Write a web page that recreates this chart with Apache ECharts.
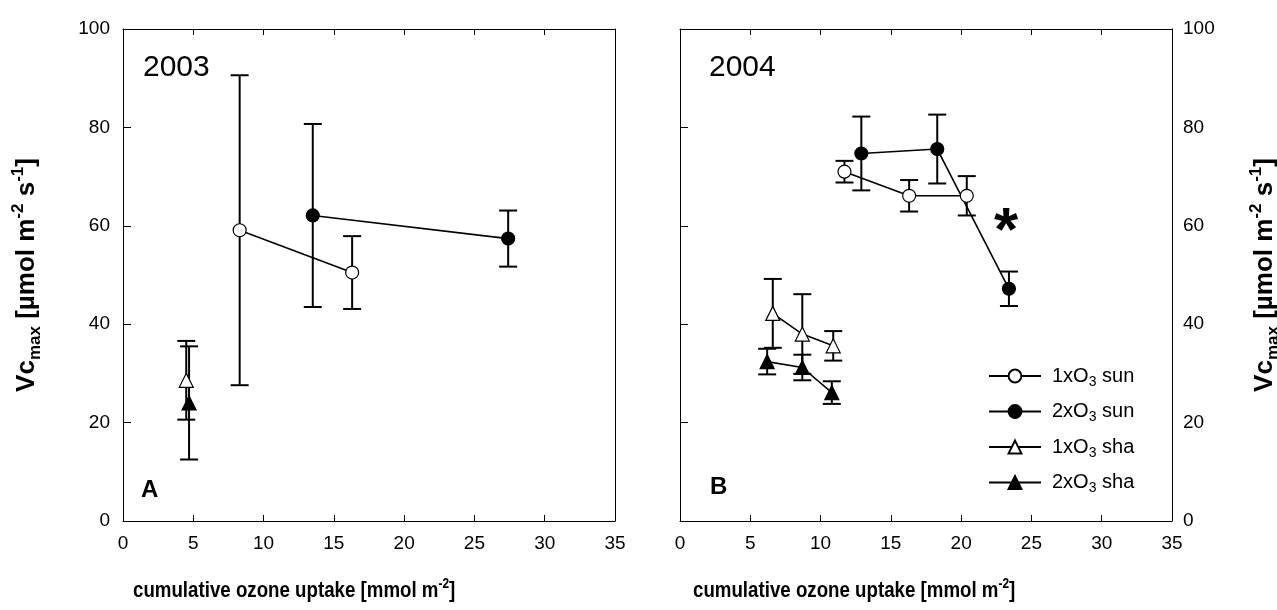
<!DOCTYPE html>
<html><head><meta charset="utf-8">
<script src="https://cdn.jsdelivr.net/npm/echarts@6/dist/echarts.min.js"></script>
<style>html,body{margin:0;padding:0;background:#fff}#c{width:1277px;height:610px}</style>
</head><body><div id="c"></div>
<script>
// ---- Data ----
const seriesNames = ['1xO3 sun', '2xO3 sun', '1xO3 sha', '2xO3 sha'];

// Panel A: 2003
const sun1_2003_x = [8.3, 16.3];
const sun1_2003_y = [59.1, 50.5];
const sun1_2003_err = [31.5, 7.4];
const sun2_2003_x = [13.5, 27.4];
const sun2_2003_y = [62.1, 57.4];
const sun2_2003_err = [18.6, 5.7];
const sha1_2003_x = [4.5];
const sha1_2003_y = [28.6];
const sha1_2003_err = [8.0];
const sha2_2003_x = [4.7];
const sha2_2003_y = [24.0];
const sha2_2003_err = [11.5];

// Panel B: 2004
const sun1_2004_x = [11.7, 16.3, 20.4];
const sun1_2004_y = [71.0, 66.1, 66.1];
const sun1_2004_err = [2.2, 3.2, 4.0];
const sun2_2004_x = [12.9, 18.3, 23.4];
const sun2_2004_y = [74.7, 75.6, 47.2];
const sun2_2004_err = [7.5, 7.0, 3.5];
const sha1_2004_x = [6.6, 8.7, 10.9];
const sha1_2004_y = [42.2, 38.0, 35.6];
const sha1_2004_err = [7.0, 8.1, 3.0];
const sha2_2004_x = [6.2, 8.7, 10.8];
const sha2_2004_y = [32.4, 31.2, 26.1];
const sha2_2004_err = [2.6, 2.6, 2.3];

const xMin = 0, xMax = 35, xStep = 5;
const yMin = 0, yMax = 100, yStep = 20;
const panelYears = ['2003', '2004'];
const panelLetters = ['A', 'B'];
const xTitle = 'cumulative ozone uptake [mmol m{sup|-2}]';
const yTitle = 'Vc{sub|max} [µmol m{sup|-2} s{sup|-1}]';

// ---- Styling ----
const FONT = '"Liberation Sans", Arial, sans-serif';
const styles = {
  '1xO3 sun': {symbol: 'circle', fill: '#fff', size: 13},
  '2xO3 sun': {symbol: 'circle', fill: '#000', size: 13},
  '1xO3 sha': {symbol: 'triangle', fill: '#fff', size: 14},
  '2xO3 sha': {symbol: 'triangle', fill: '#000', size: 14}
};

const panels = [
  {xi: 0, yi: 0, sets: [
    ['1xO3 sun', sun1_2003_x, sun1_2003_y, sun1_2003_err],
    ['2xO3 sun', sun2_2003_x, sun2_2003_y, sun2_2003_err],
    ['1xO3 sha', sha1_2003_x, sha1_2003_y, sha1_2003_err],
    ['2xO3 sha', sha2_2003_x, sha2_2003_y, sha2_2003_err]
  ]},
  {xi: 2, yi: 1, sets: [
    ['1xO3 sun', sun1_2004_x, sun1_2004_y, sun1_2004_err],
    ['2xO3 sun', sun2_2004_x, sun2_2004_y, sun2_2004_err],
    ['1xO3 sha', sha1_2004_x, sha1_2004_y, sha1_2004_err],
    ['2xO3 sha', sha2_2004_x, sha2_2004_y, sha2_2004_err]
  ]}
];

const series = [];
panels.forEach(p => {
  p.sets.forEach(([name, xs, ys, es]) => {
    series.push({
      type: 'custom', xAxisIndex: p.xi, yAxisIndex: p.yi, silent: true, z: 2,
      data: xs.map((x, i) => [x, ys[i] - es[i], ys[i] + es[i]]),
      encode: {x: 0, y: [1, 2]},
      renderItem: function (params, api) {
        const x = api.value(0), lo = api.value(1), hi = api.value(2);
        const pl = api.coord([x, lo]), ph = api.coord([x, hi]);
        const w = 9, st = {stroke: '#000', lineWidth: 2};
        return {type: 'group', children: [
          {type: 'line', shape: {x1: pl[0], y1: pl[1], x2: ph[0], y2: ph[1]}, style: st},
          {type: 'line', shape: {x1: pl[0] - w, y1: pl[1], x2: pl[0] + w, y2: pl[1]}, style: st},
          {type: 'line', shape: {x1: ph[0] - w, y1: ph[1], x2: ph[0] + w, y2: ph[1]}, style: st}
        ]};
      }
    });
    const s = styles[name];
    series.push({
      type: 'line', name: name, xAxisIndex: p.xi, yAxisIndex: p.yi, z: 3,
      data: xs.map((x, i) => [x, ys[i]]),
      symbol: s.symbol, symbolSize: s.size, showAllSymbol: true,
      itemStyle: {color: s.fill, borderColor: '#000', borderWidth: 1.2},
      lineStyle: {color: '#000', width: 1.6},
      emphasis: {disabled: true}
    });
  });
});

const tickLbl = {fontFamily: FONT, fontSize: 19, color: '#000'};
const nameStyle = {
  fontFamily: FONT, fontWeight: 'bold', fontSize: 26, color: '#000', lineHeight: 34,
  rich: {
    sub: {fontFamily: FONT, fontWeight: 'bold', fontSize: 17, lineHeight: 17, verticalAlign: 'bottom'},
    sup: {fontFamily: FONT, fontWeight: 'bold', fontSize: 17, lineHeight: 17, verticalAlign: 'top'}
  }
};

function xAx(gi, pos, labels) {
  return {
    type: 'value', gridIndex: gi, position: pos, min: xMin, max: xMax, interval: xStep,
    axisLine: {show: true, onZero: false, lineStyle: {color: '#000', width: 1}},
    axisTick: {show: true, inside: true, length: 6, lineStyle: {color: '#000'}},
    axisLabel: labels ? Object.assign({margin: 13}, tickLbl) : {show: false},
    splitLine: {show: false}
  };
}
function yAx(gi, pos, ticks, labels, withName) {
  return {
    type: 'value', gridIndex: gi, position: pos, min: yMin, max: yMax, interval: yStep,
    axisLine: {show: true, onZero: false, lineStyle: {color: '#000', width: 1}},
    axisTick: {show: ticks, inside: true, length: 8, lineStyle: {color: '#000'}},
    axisLabel: labels ? Object.assign({margin: pos === 'left' ? 13 : 11}, tickLbl) : {show: false},
    splitLine: {show: false},
    name: withName ? yTitle : '', nameLocation: 'middle', nameGap: pos === 'left' ? 79 : 76,
    nameTextStyle: nameStyle
  };
}

function xTitleGraphic(x) {
  return {type: 'text', x: x, y: 591, scaleX: 0.85, silent: true, style: {
    text: xTitle, font: 'bold 22px ' + FONT, fill: '#000', lineHeight: 28, verticalAlign: 'middle',
    rich: {sup: {font: 'bold 14px ' + FONT, fill: '#000', lineHeight: 14, verticalAlign: 'top'}}
  }};
}

const option = {
  backgroundColor: '#fff',
  animation: false,
  grid: [
    {left: 123, top: 29, width: 492, height: 492, show: false, containLabel: false, outerBoundsMode: 'none'},
    {left: 680, top: 29, width: 492, height: 492, show: false, containLabel: false, outerBoundsMode: 'none'}
  ],
  xAxis: [xAx(0, 'bottom', true), xAx(0, 'top', false), xAx(1, 'bottom', true), xAx(1, 'top', false)],
  yAxis: [yAx(0, 'left', true, true, true), yAx(1, 'left', true, false, false),
          yAx(1, 'right', false, true, true), yAx(0, 'right', false, false, false)],
  legend: {
    data: seriesNames, orient: 'vertical', left: 983, top: 358,
    itemWidth: 52, itemHeight: 16, itemGap: 9.5, selectedMode: false,
    formatter: n => n.replace('O3', 'O{sub|3}'),
    textStyle: {fontFamily: FONT, fontSize: 20, color: '#000', lineHeight: 26, padding: [0, 0, 0, 6],
      rich: {sub: {fontFamily: FONT, fontSize: 14, lineHeight: 12, verticalAlign: 'bottom'}}}
  },
  graphic: [
    {type: 'text', x: 143, y: 68, style: {text: panelYears[0], font: '30px ' + FONT, fill: '#000', verticalAlign: 'middle'}},
    {type: 'text', x: 709, y: 68, style: {text: panelYears[1], font: '30px ' + FONT, fill: '#000', verticalAlign: 'middle'}},
    {type: 'text', x: 141, y: 490, style: {text: panelLetters[0], font: 'bold 24px ' + FONT, fill: '#000', verticalAlign: 'middle'}},
    {type: 'text', x: 710, y: 487, style: {text: panelLetters[1], font: 'bold 24px ' + FONT, fill: '#000', verticalAlign: 'middle'}},
    {type: 'text', x: 1006, y: 233, style: {text: '*', font: 'bold 62px ' + FONT, fill: '#000', align: 'center', verticalAlign: 'middle'}},
    xTitleGraphic(133),
    xTitleGraphic(693)
  ],
  series: series
};

const chart = echarts.init(document.getElementById('c'), null, {renderer: 'canvas'});
chart.setOption(option);
</script></body></html>
